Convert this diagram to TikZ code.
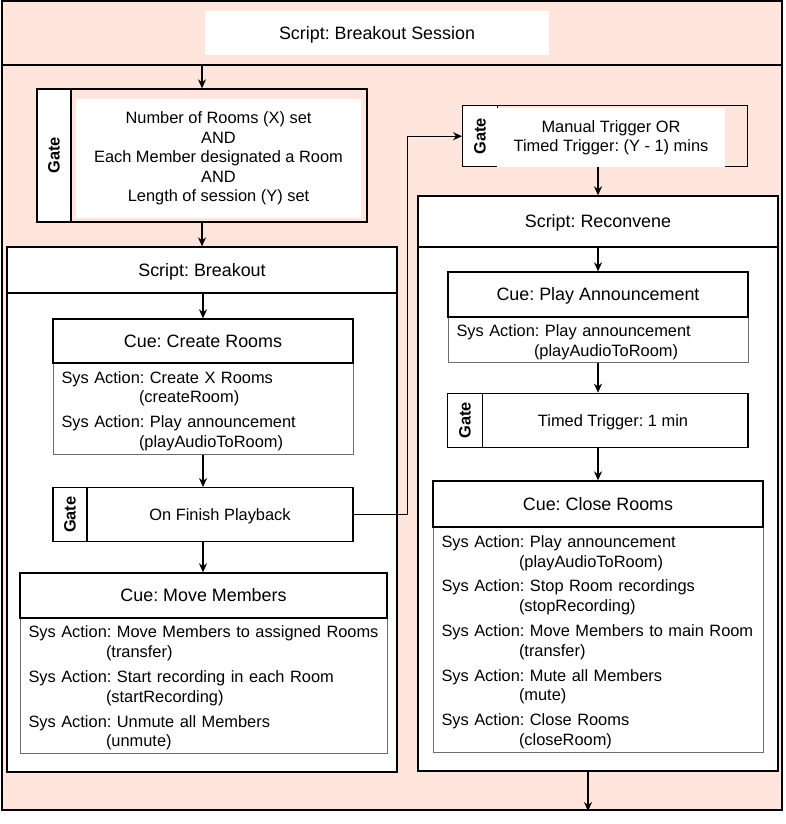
\documentclass[tikz,border=0pt]{standalone}
\usepackage{fontspec}
\setmainfont{Liberation Sans}
\usepackage{xcolor}
\usetikzlibrary{arrows.meta}
\frenchspacing

\definecolor{sessionpink}{RGB}{255,229,220}
\definecolor{bodygray}{RGB}{110,110,110}
\newcommand{\sysact}[2]{Sys Action: #1\\\hspace*{77.5pt}(#2)}

\begin{document}
\begin{tikzpicture}[
            x = 1pt, y = -1pt, % pixel units, y goes down
            > = {Stealth[length=9pt,width=8pt]}, % arrow head style
            line width = 1.3pt, % line style
            frame/.style = {draw, fill=sessionpink, inner sep=0pt},
            script/.style = {draw, fill=white, inner sep=0pt},
            oneline/.style = {text depth=-1pt},
            strutted/.style = {execute at begin node=\rule{0pt}{17pt}},
            head/.style = {draw, fill=white, inner sep=0pt, oneline, font=\fontsize{17.9}{21}\selectfont},
            actions/.style = {draw=bodygray, line width=1pt, fill=white, inner xsep=8.5pt, inner ysep=0pt, strutted, align=left, font=\fontsize{16.4}{19.8}\selectfont},
            gatebox/.style = {draw, inner sep=0pt},
            gatetag/.style = {draw, fill=white, rotate=90, inner sep=0pt, font=\fontsize{16.4}{19.5}\selectfont\bfseries},
            gatetext/.style = {fill=white, inner sep=0pt, align=center, font=\fontsize{16.4}{19.4}\selectfont}
        ]
\useasboundingbox (0,0) rectangle (786,824);

% outer script
\node[frame, minimum width=780pt, minimum height=809pt] (session) at (392,405.5) {};
\node[frame, minimum width=780pt, minimum height=64pt] (sessHead) at (392,33) {};
\node[fill=white, inner sep=0pt, minimum width=344pt, minimum height=44pt, oneline, font=\fontsize{17.9}{21}\selectfont] (sessTitle) at (377,33) {Script: Breakout Session};

\node[gatebox, fill=sessionpink, minimum width=330pt, minimum height=133pt] (startGate) at (202,155.5) {};
\node[gatetag, minimum width=133pt, minimum height=34pt] (startTag) at (54,155.5) {Gate};
\node[gatetext, minimum width=285pt, minimum height=119pt] (startText) at (218.5,158.5) {Number of Rooms (X) set\\AND\\Each Member designated a Room\\AND\\Length of session (Y) set};

% left script
\node[script, minimum width=390pt, minimum height=525pt] (breakout) at (202,509.5) {};
\node[head, minimum width=390pt, minimum height=46pt] (breakoutHead) at (202,270) {Script: Breakout};

\node[actions, minimum width=300pt, minimum height=91pt, text width=283pt] (createBody) at (203,408.5) {\sysact{Create X Rooms}{createRoom}\\[5pt]\sysact{Play announcement}{playAudioToRoom}};
\node[head, minimum width=300pt, minimum height=44pt] (createCue) at (203,341) {Cue: Create Rooms};

\node[gatebox, fill=white, minimum width=300pt, minimum height=54pt] (finishGate) at (203,514.7) {};
\node[gatetag, minimum width=54pt, minimum height=34pt] (finishTag) at (70,514.7) {Gate};
\node[gatetext, oneline] (finishText) at (220,514.7) {On Finish Playback};

\node[actions, minimum width=367pt, minimum height=135pt, text width=350pt] (moveBody) at (203.5,685.5) {\sysact{Move Members to assigned Rooms}{transfer}\\[5pt]\sysact{Start recording in each Room}{startRecording}\\[5pt]\sysact{Unmute all Members}{unmute}};
\node[head, minimum width=367pt, minimum height=45pt] (moveCue) at (203.5,595.5) {Cue: Move Members};

% right script
\node[gatebox, fill=sessionpink, minimum width=285pt, minimum height=61pt] (triggerGate) at (605.2,136.2) {};
\node[gatetag, minimum width=61pt, minimum height=34.6pt] (triggerTag) at (480,136.2) {Gate};
\node[gatetext, minimum width=228pt, minimum height=58pt] (triggerText) at (611,137.5) {Manual Trigger OR\\Timed Trigger: (Y - 1) mins};

\node[script, minimum width=360pt, minimum height=575pt] (reconvene) at (598,483.5) {};
\node[head, minimum width=360pt, minimum height=51pt] (reconveneHead) at (598,221.5) {Script: Reconvene};

\node[actions, minimum width=300pt, minimum height=45pt, text width=283pt] (announceBody) at (598,339.5) {\sysact{Play announcement}{playAudioToRoom}};
\node[head, minimum width=300pt, minimum height=45pt] (announceCue) at (598,294.5) {Cue: Play Announcement};

\node[gatebox, fill=white, minimum width=300pt, minimum height=54pt] (minuteGate) at (598,420.3) {};
\node[gatetag, minimum width=54pt, minimum height=34.6pt] (minuteTag) at (465,420.3) {Gate};
\node[gatetext, oneline] (minuteText) at (613,420.3) {Timed Trigger: 1 min};

\node[actions, minimum width=330pt, minimum height=225pt, text width=313pt] (closeBody) at (598,639.5) {\sysact{Play announcement}{playAudioToRoom}\\[5pt]\sysact{Stop Room recordings}{stopRecording}\\[5pt]\sysact{Move Members to main Room}{transfer}\\[5pt]\sysact{Mute all Members}{mute}\\[5pt]\sysact{Close Rooms}{closeRoom}};
\node[head, minimum width=330pt, minimum height=46pt] (closeCue) at (598,504) {Cue: Close Rooms};

\coordinate (sessionEnd) at (588,811);

 \path [->] (startGate.north |- sessHead.south) edge (startGate.north);
 \path [->] (startGate.south) edge (breakout.north);
 \path [->] (createCue.north |- breakoutHead.south) edge (createCue.north);
 \path [->] (createBody.south) edge (finishGate.north);
 \path [->] (finishGate.south) edge (finishGate.south |- moveCue.north);
 \draw [->] (finishGate.east) -- ++(54,0) |- (triggerGate.west);
 \path [->] (reconvene.north |- triggerGate.south) edge (reconvene.north);
 \path [->] (reconveneHead.south) edge (announceCue.north);
 \path [->] (announceBody.south) edge (minuteGate.north);
 \path [->] (minuteGate.south) edge (closeCue.north);
 \path [->] (reconvene.south -| sessionEnd) edge (sessionEnd);
\end{tikzpicture}
\end{document}
